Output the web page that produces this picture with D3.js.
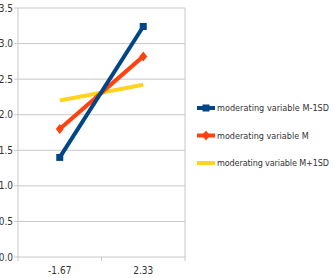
<!DOCTYPE html>
<meta charset="utf-8">
<script src="https://d3js.org/d3.v7.min.js"></script>
<style>
  body { margin: 0; background: #fff; }
  text { font-family: "DejaVu Sans Condensed", "DejaVu Sans", sans-serif; fill: #333; }
</style>
<body>
<script>
// data
var categories = ["-1.67", "2.33"];
var seriesNames = ["moderating variable M-1SD", "moderating variable M", "moderating variable M+1SD"];
var seriesM1 = [1.40, 3.24];
var seriesM = [1.80, 2.82];
var seriesP1 = [2.20, 2.42];
var yTicks = [0, 0.5, 1, 1.5, 2, 2.5, 3, 3.5];

var colors = ["#004586", "#ff420e", "#ffd320"];
var series = [seriesM1, seriesM, seriesP1];

var margin = {top: 8, left: 18},
    width = 167, height = 249;

var svg = d3.select("body").append("svg")
    .attr("width", 334).attr("height", 278);

var g = svg.append("g")
    .attr("transform", "translate(" + margin.left + "," + margin.top + ")");

var x = d3.scaleBand().domain(categories).range([0, width]);
var y = d3.scaleLinear().domain([0, 3.5]).range([height, 0]);

// gridlines
g.append("g").selectAll("line")
  .data(yTicks)
  .enter().append("line")
    .attr("x1", -4).attr("x2", width)
    .attr("y1", function(d) { return y(d); })
    .attr("y2", function(d) { return y(d); })
    .attr("stroke", "#c8c8c8").attr("stroke-width", 1);

// axis lines
g.append("line").attr("x1", 0).attr("x2", 0).attr("y1", 0).attr("y2", height + 4)
  .attr("stroke", "#c8c8c8");
g.append("line").attr("x1", width).attr("x2", width).attr("y1", 0).attr("y2", height + 4)
  .attr("stroke", "#c8c8c8");
g.append("line").attr("x1", width / 2).attr("x2", width / 2).attr("y1", height).attr("y2", height + 4)
  .attr("stroke", "#c8c8c8");

// y labels
g.append("g").selectAll("text")
  .data(yTicks)
  .enter().append("text")
    .attr("x", -5)
    .attr("y", function(d) { return y(d); })
    .attr("dy", "0.35em")
    .attr("text-anchor", "end")
    .style("font-size", "10px")
    .text(function(d) { return d.toFixed(1); });

// x labels
g.append("g").selectAll("text")
  .data(categories)
  .enter().append("text")
    .attr("x", function(d) { return x(d) + x.bandwidth() / 2; })
    .attr("y", height + 17)
    .attr("text-anchor", "middle")
    .style("font-size", "10px")
    .text(function(d) { return d; });

var line = d3.line()
  .x(function(d, i) { return x(categories[i]) + x.bandwidth() / 2; })
  .y(function(d) { return y(d); });

// draw from back to front like the original: yellow, orange, blue
[2, 1, 0].forEach(function(k) {
  g.append("path")
    .datum(series[k])
    .attr("d", line)
    .attr("fill", "none")
    .attr("stroke", colors[k])
    .attr("stroke-width", 4);
});

// markers
function marker(sel, k, cx, cy) {
  if (k == 0) {
    sel.append("rect").attr("x", cx - 3.5).attr("y", cy - 3.5)
      .attr("width", 7).attr("height", 7).attr("fill", colors[0]);
  } else if (k == 1) {
    sel.append("path")
      .attr("d", "M" + (cx - 4) + "," + cy + "L" + cx + "," + (cy - 5) + "L" + (cx + 4) + "," + cy + "L" + cx + "," + (cy + 5) + "Z")
      .attr("fill", colors[1]);
  }
}
[0, 1].forEach(function(k) {
  series[k].forEach(function(v, i) {
    marker(g, k, x(categories[i]) + x.bandwidth() / 2, y(v));
  });
});

// legend
var legend = svg.append("g").attr("transform", "translate(197,108)");
seriesNames.forEach(function(name, k) {
  var row = legend.append("g").attr("transform", "translate(0," + (k * 27.5) + ")");
  row.append("line").attr("x1", 0).attr("x2", 18).attr("y1", 0).attr("y2", 0)
    .attr("stroke", colors[k]).attr("stroke-width", 4);
  if (k == 0) {
    row.append("rect").attr("x", 5.5).attr("y", -3.5).attr("width", 7).attr("height", 7).attr("fill", colors[0]);
  } else if (k == 1) {
    row.append("path").attr("d", "M5,0L9,-5L13,0L9,5Z").attr("fill", colors[1]);
  }
  row.append("text")
    .attr("x", 20)
    .attr("y", 0)
    .attr("dy", "0.35em")
    .style("font-size", "9px")
    .attr("textLength", name.length > 21 ? 112 : null)
    .text(name);
});
</script>
</body>
</html>
